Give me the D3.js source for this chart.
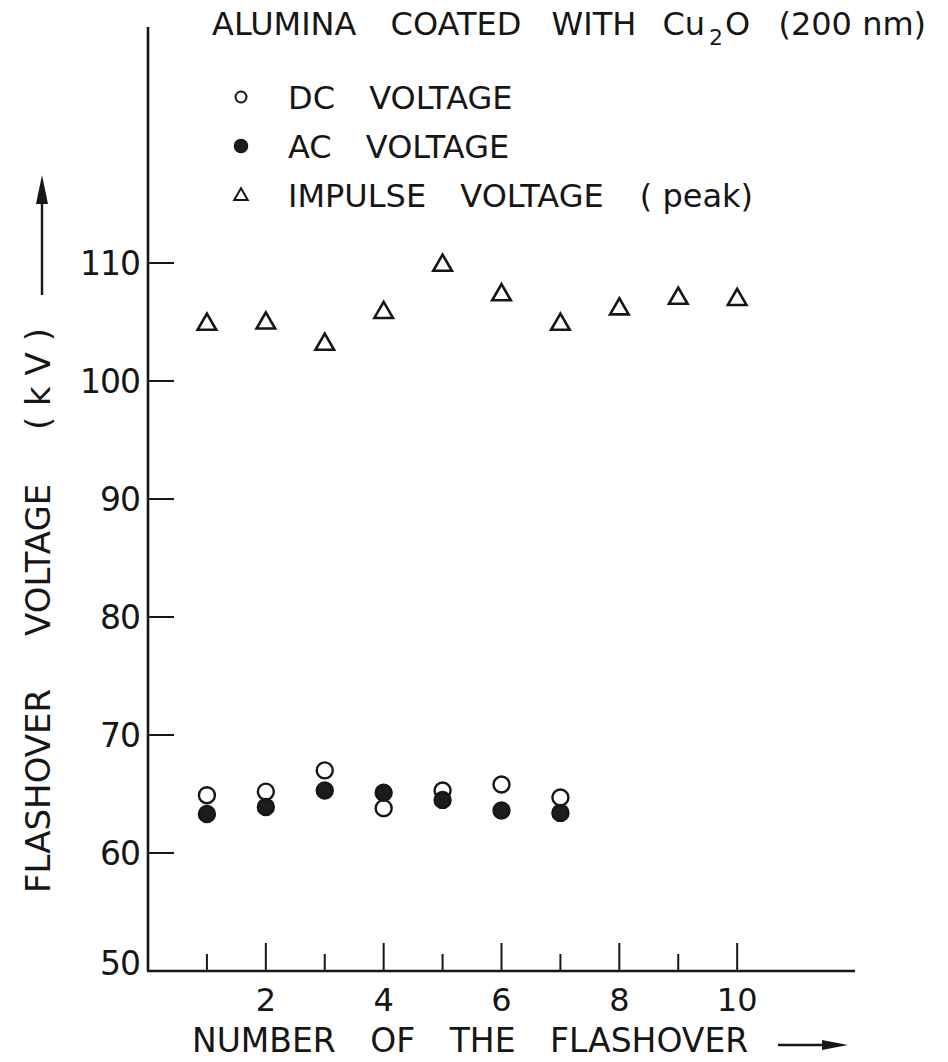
<!DOCTYPE html>
<html>
<head>
<meta charset="utf-8">
<script src="https://cdn.jsdelivr.net/npm/d3@7"></script>
<style>
  body { margin: 0; background: #fff; }
  text { font-family: "DejaVu Sans", sans-serif; fill: #161616; }
</style>
</head>
<body>
<div id="chart"></div>
<script>
// flashover number (x) and measured voltages in kV
var flashover = [1, 2, 3, 4, 5, 6, 7, 8, 9, 10];
var dcVoltage = [64.9, 65.2, 67.0, 63.8, 65.3, 65.8, 64.7];
var acVoltage = [63.3, 63.9, 65.3, 65.1, 64.5, 63.6, 63.4];
var impulseVoltage = [104.8, 104.9, 103.1, 105.8, 109.8, 107.3, 104.8, 106.1, 107.0, 106.9];
var yTicks = [50, 60, 70, 80, 90, 100, 110];
var xTicks = [1, 2, 3, 4, 5, 6, 7, 8, 9, 10];
var xLabels = [2, 4, 6, 8, 10];
var legendItems = [["DC", "VOLTAGE"], ["AC", "VOLTAGE"], ["IMPULSE", "VOLTAGE", "( peak)"]];

var width = 948, height = 1062;
var ink = "#161616";

var svg = d3.select("#chart").append("svg")
    .attr("width", width).attr("height", height);

var x = d3.scaleLinear().domain([0, 12]).range([148, 855]);
var y = d3.scaleLinear().domain([50, 130]).range([971, 27]);

// axes: left line + bottom line
svg.append("line").attr("x1", x(0)).attr("x2", x(0)).attr("y1", y(130)).attr("y2", y(50))
    .attr("stroke", ink).attr("stroke-width", 2.6);
svg.append("line").attr("x1", x(0) - 1).attr("x2", x(12)).attr("y1", y(50)).attr("y2", y(50))
    .attr("stroke", ink).attr("stroke-width", 2.6);

// y ticks point inward
svg.selectAll("line.ytick").data(yTicks.filter(function (d) { return d > 50; }))
    .enter().append("line").attr("class", "ytick")
    .attr("x1", x(0)).attr("x2", x(0) + 26)
    .attr("y1", function (d) { return y(d); }).attr("y2", function (d) { return y(d); })
    .attr("stroke", ink).attr("stroke-width", 2);
svg.selectAll("text.ylab").data(yTicks)
    .enter().append("text").attr("class", "ylab")
    .attr("x", x(0) - 8).attr("y", function (d) { return d === 50 ? y(d) - 8 : y(d); })
    .attr("dy", "0.36em").attr("text-anchor", "end")
    .attr("font-size", 33)
    .attr("letter-spacing", -1)
    .text(function (d) { return d; });

// x ticks: long at even numbers, short at odd
svg.selectAll("line.xtick").data(xTicks)
    .enter().append("line").attr("class", "xtick")
    .attr("x1", function (d) { return x(d); }).attr("x2", function (d) { return x(d); })
    .attr("y1", y(50)).attr("y2", function (d) { return y(50) - (d % 2 === 0 ? 28 : 17); })
    .attr("stroke", ink).attr("stroke-width", 2);
svg.selectAll("text.xlab").data(xLabels)
    .enter().append("text").attr("class", "xlab")
    .attr("x", function (d) { return x(d); }).attr("y", 1011)
    .attr("text-anchor", "middle").attr("font-size", 32)
    .text(function (d) { return d; });

// x axis title + arrow
svg.append("text").attr("x", 192).attr("y", 1052).attr("font-size", 33)
    .attr("word-spacing", 24)
    .text("NUMBER OF THE FLASHOVER");
svg.append("line").attr("x1", 778).attr("x2", 826).attr("y1", 1045).attr("y2", 1045)
    .attr("stroke", ink).attr("stroke-width", 2.4);
svg.append("path").attr("d", "M822,1040 L848,1045 L822,1050 Z").attr("fill", ink);

// y axis title, words placed along the rotated baseline
var ytitle = svg.append("text").attr("transform", "translate(50,0) rotate(-90)")
    .attr("font-size", 34);
ytitle.append("tspan").attr("x", -893).text("FLASHOVER");
ytitle.append("tspan").attr("x", -636).text("VOLTAGE");
ytitle.append("tspan").attr("x", -430).text("( k V )");
svg.append("line").attr("x1", 42).attr("x2", 42).attr("y1", 295).attr("y2", 198)
    .attr("stroke", ink).attr("stroke-width", 2.4);
svg.append("path").attr("d", "M36,204 L42,175 L48,204 Z").attr("fill", ink);

// title
var title = svg.append("text").attr("x", 212).attr("y", 35).attr("font-size", 32);
title.append("tspan").text("ALUMINA");
title.append("tspan").attr("dx", 24).text(" COATED");
title.append("tspan").attr("dx", 20).text(" WITH");
title.append("tspan").attr("dx", 16).text(" Cu");
title.append("tspan").attr("dx", 4).attr("dy", 10).attr("font-size", 22).text("2");
title.append("tspan").attr("dx", 2).attr("dy", -10).text("O");
title.append("tspan").attr("dx", 18).text(" (200 nm)");

// markers
var tri = d3.symbol().type(d3.symbolTriangle).size(150);

function drawDot(cx, cy, filled) {
    svg.append("circle").attr("cx", cx).attr("cy", cy).attr("r", 8)
        .attr("fill", filled ? "#1c1c1c" : "none")
        .attr("stroke", ink).attr("stroke-width", 2.4);
}

function drawTri(cx, cy) {
    svg.append("path").attr("d", tri)
        .attr("transform", "translate(" + cx + "," + cy + ")")
        .attr("fill", "none").attr("stroke", ink).attr("stroke-width", 2.6);
}

dcVoltage.forEach(function (v, i) { drawDot(x(flashover[i]), y(v), false); });
acVoltage.forEach(function (v, i) { drawDot(x(flashover[i]), y(v), true); });
impulseVoltage.forEach(function (v, i) { drawTri(x(flashover[i]), y(v)); });

// legend
var legendY = [97, 146, 195];
var wordGap = [0, 24, 26];
legendItems.forEach(function (words, i) {
    var cy = legendY[i];
    if (i === 0) {
        svg.append("circle").attr("cx", 241).attr("cy", cy).attr("r", 5.5)
            .attr("fill", "none").attr("stroke", ink).attr("stroke-width", 2);
    } else if (i === 1) {
        svg.append("circle").attr("cx", 241).attr("cy", cy).attr("r", 6.5)
            .attr("fill", "#1c1c1c").attr("stroke", ink).attr("stroke-width", 1.5);
    } else {
        svg.append("path").attr("d", d3.symbol().type(d3.symbolTriangle).size(80))
            .attr("transform", "translate(241," + (cy + 1) + ")")
            .attr("fill", "none").attr("stroke", ink).attr("stroke-width", 2);
    }
    var t = svg.append("text").attr("x", 288).attr("y", cy + 12).attr("font-size", 32);
    words.forEach(function (w, j) {
        t.append("tspan").attr("dx", wordGap[j]).text((j ? " " : "") + w);
    });
});
</script>
</body>
</html>
